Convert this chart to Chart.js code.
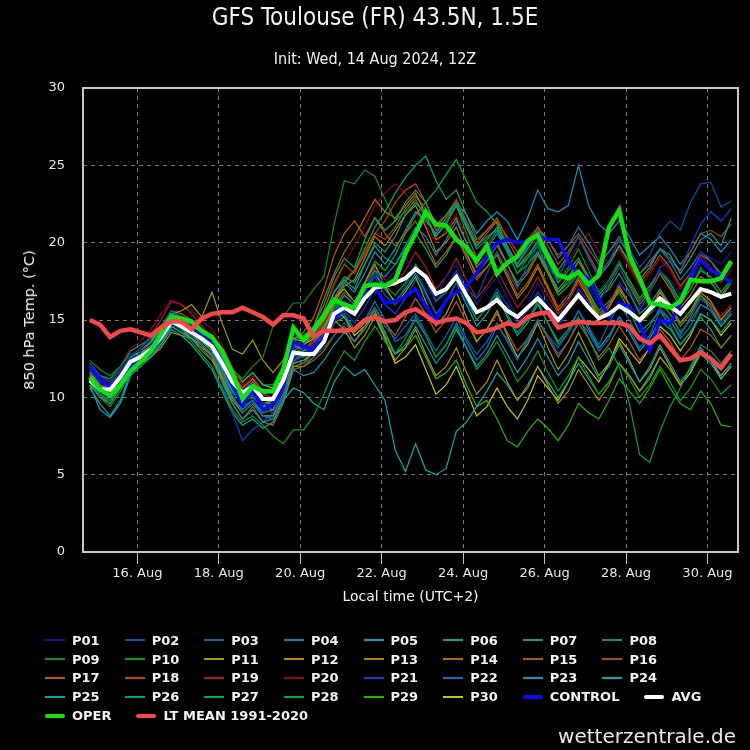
<!DOCTYPE html>
<html><head><meta charset="utf-8">
<script src="https://cdn.jsdelivr.net/npm/chart.js@4.4.1/dist/chart.umd.min.js"></script>
<style>
html,body{margin:0;padding:0;background:#000;}
#wrap{position:relative;width:750px;height:750px;background:#000;overflow:hidden;font-family:"DejaVu Sans",sans-serif;color:#f2f2f2;}
#c{position:absolute;left:0;top:0;}
.t{position:absolute;white-space:nowrap;}
#title{left:0;width:750px;top:3px;text-align:center;font-family:"DejaVu Sans Condensed","DejaVu Sans",sans-serif;font-stretch:condensed;font-size:24px;line-height:28px;}
#sub{left:0;width:750px;top:50px;text-align:center;font-family:"DejaVu Sans Condensed","DejaVu Sans",sans-serif;font-stretch:condensed;font-size:16px;line-height:18px;}
#ytitle{left:29px;top:320px;font-size:14.5px;line-height:16px;transform:translate(-50%,-50%) rotate(-90deg);}
#xtitle{left:83px;width:655px;top:588px;text-align:center;font-size:14px;line-height:16px;}
#legend{position:absolute;left:45px;top:631px;width:680px;display:flex;flex-wrap:wrap;column-gap:25px;}
.li{display:flex;align-items:center;height:18.8px;font-weight:bold;font-size:13px;}
.ln{width:20px;height:2px;margin-right:7px;}
.ln.thick{height:4px;border-radius:2px;}
#wm{right:14px;top:724px;font-size:20px;line-height:24px;color:#e8e8e8;}
</style></head><body>
<div id="wrap">
<canvas id="c" width="750" height="750"></canvas>
<div class="t" id="title">GFS Toulouse (FR) 43.5N, 1.5E</div>
<div class="t" id="sub">Init: Wed, 14 Aug 2024, 12Z</div>
<div class="t" id="ytitle">850 hPa Temp. (°C)</div>
<div class="t" id="xtitle">Local time (UTC+2)</div>
<div id="legend"></div>
<div class="t" id="wm">wetterzentrale.de</div>
</div>
<script>
// forecast lead times (h after init 14 Aug 12Z); local hours relative to 16 Aug 00:00 (UTC+2) = lead - 34
const leadHours = [6,12,18,24,30,36,42,48,54,60,66,72,78,84,90,96,102,108,114,120,126,132,138,144,150,156,162,168,174,180,186,192,198,204,210,216,222,228,234,240,246,252,258,264,270,276,282,288,294,300,306,312,318,324,330,336,342,348,354,360,366,372,378,384];
const tickHours = [0,48,96,144,192,240,288,336];
const tickLabels = ['16. Aug','18. Aug','20. Aug','22. Aug','24. Aug','26. Aug','28. Aug','30. Aug'];
const yTicks = [0,5,10,15,20,25,30];

const memberNames = ['P01','P02','P03','P04','P05','P06','P07','P08','P09','P10','P11','P12','P13','P14','P15','P16','P17','P18','P19','P20','P21','P22','P23','P24','P25','P26','P27','P28','P29','P30'];
const memberColors = ['#0c1e9a','#0a4fae','#0a68b4','#0a86bc','#0ca0b4','#0ca58a','#0ca464','#0c9c40','#0c9020','#0ca010','#a0a000','#b09000','#b07c00','#b06c00','#b05c00','#ac4c00','#c45400','#c83c10','#b41818','#900808','#0044d8','#0a70d0','#0a98c8','#00b0b0','#00a8a0','#00a878','#00b050','#00b030','#20b800','#c8c800'];

const P01 = [11.8,11.0,10.8,11.6,12.8,13.0,13.4,14.2, 15.2,15.0,14.6,14.0,13.6,12.4,11.2,10.0, 10.4,9.6,9.4,10.8,12.6,12.8,13.4,14.2, 15.0,15.8,16.4,17.2,18.0,17.4,18.2,19.0, 18.2,17.0,16.4,17.8,18.6,17.2,16.0,17.0, 17.8,16.4,15.2,16.0,17.4,16.2,15.0,16.6, 18.0,17.2,16.0,17.4,18.4,17.0,15.8,16.8, 18.2,17.6,16.6,18.0,19.4,19.0,18.6,19.4];
const P02 = [12.2,11.4,11.0,11.8,12.6,13.2,13.8,14.6, 15.6,15.2,14.8,14.2,13.4,12.0,10.6,9.6, 10.2,9.2,9.0,10.6,12.8,13.2,13.0,14.0, 15.6,16.2,15.4,16.8,17.8,16.6,16.0,17.2, 18.4,17.6,16.2,17.0,18.2,17.0,16.4,18.0, 19.4,18.2,17.0,18.6,19.8,18.4,17.6,19.2, 20.4,19.0,17.8,18.8,20.2,19.6,18.4,19.2, 20.6,21.4,20.8,22.6,23.8,23.9,22.3,22.7];
const P03 = [11.0,10.2,9.8,10.8,12.0,12.4,12.8,13.6, 14.8,14.4,14.0,13.4,12.8,11.6,10.2,9.0, 9.6,8.8,8.6,10.2,12.4,12.2,12.6,13.2, 14.0,14.8,14.2,15.0,15.8,14.6,13.8,14.6, 15.4,14.2,13.0,14.0,15.2,13.8,12.8,13.6, 14.8,13.6,12.4,13.8,15.0,14.0,13.2,14.2, 15.6,14.6,13.4,14.8,16.0,15.0,13.8,14.6, 15.8,15.0,14.0,15.2,16.4,15.8,14.8,15.6];
const P04 = [11.4,10.8,10.6,11.4,12.4,12.8,13.2,14.2, 15.0,14.8,14.4,14.0,13.6,12.6,11.4,10.4, 11.0,10.2,10.4,11.6,13.4,13.0,13.2,14.0, 15.2,16.0,15.6,17.0,18.2,17.8,18.6,19.8, 21.0,20.4,19.2,20.2,21.4,20.0,18.8,19.6, 20.6,19.4,18.6,19.8,20.8,20.2,19.0,19.8, 21.0,20.0,18.8,19.4,20.4,19.2,18.0,18.6, 19.6,18.8,17.6,18.4,19.4,18.8,18.0,18.6];
const P05 = [10.6,9.6,8.8,9.8,11.6,12.2,12.6,13.4, 14.6,14.2,13.8,13.2,12.4,11.0,9.6,8.6, 9.2,8.4,8.6,9.8,11.8,11.4,11.6,12.4, 13.4,14.2,13.6,14.4,15.4,14.0,12.8,13.4, 14.6,13.4,12.2,13.0,14.4,13.2,12.0,12.8, 14.0,12.8,11.6,12.6,13.8,12.6,11.4,12.2, 13.6,12.4,11.2,12.0,13.4,12.2,11.0,12.0, 13.4,12.2,11.0,11.8,13.2,12.4,11.4,12.2];
const P06 = [12.0,11.2,10.8,11.6,12.6,13.0,13.6,14.4, 15.4,15.0,14.4,13.8,13.2,11.8,10.6,9.8, 10.0,9.4,9.8,11.2,13.0,13.4,14.0,15.2, 16.8,17.6,17.0,18.6,20.0,19.4,20.4,21.8, 22.6,21.8,20.4,21.2,22.4,21.0,19.6,20.2, 21.0,19.8,18.6,19.6,20.6,19.4,18.2,19.2, 20.4,19.0,17.8,18.6,19.8,18.8,17.6,18.4, 19.6,19.2,18.0,19.0,20.2,20.6,19.8,21.6];
const P07 = [11.6,10.6,10.0,10.8,11.8,12.2,12.8,13.8, 14.8,14.6,14.2,13.6,13.0,11.8,10.4,9.6, 10.4,9.6,9.8,11.4,13.6,14.0,14.6,16.0, 17.8,19.0,18.4,20.2,21.6,20.8,21.4,22.6, 23.4,22.6,21.0,21.8,22.6,21.2,19.8,20.4, 20.8,19.6,18.4,19.2,20.0,18.8,17.4,18.2, 19.0,17.8,16.4,17.0,18.0,16.8,15.4,16.0, 17.0,16.0,14.8,15.6,16.6,15.8,14.6,15.4];
const P08 = [11.2,10.2,9.6,10.6,11.8,12.4,13.0,14.0, 15.0,14.8,14.4,13.8,13.2,12.0,10.8,9.8, 10.4,9.6,9.4,10.8,12.8,12.6,13.0,14.2, 15.4,16.2,15.6,17.0,18.2,17.2,16.6,17.4, 18.6,17.6,16.2,16.8,17.8,16.4,15.0,15.8, 16.8,15.4,14.2,15.0,16.2,14.8,13.4,14.2, 15.2,13.8,12.4,13.2,12.0,9.6,6.3,5.8, 7.8,9.4,10.6,12.0,13.4,13.0,12.2,13.0];
const P09 = [12.4,11.8,11.4,12.0,12.8,13.0,13.4,14.4, 15.4,15.2,14.8,14.2,13.8,12.8,11.8,11.2, 12.0,12.6,14.6,15.2,16.1,16.1,17.0,17.8, 21.2,24.0,23.8,24.7,24.3,22.8,21.4,22.0, 22.8,21.6,20.4,21.4,22.4,20.6,19.0,19.8, 20.8,19.4,18.0,19.0,20.2,18.8,17.6,18.4, 19.6,18.2,16.8,17.6,18.8,17.4,16.2,17.0, 18.2,17.2,16.0,17.0,18.4,17.6,16.4,17.4];
const P10 = [11.0,10.0,9.4,10.4,11.6,12.0,12.6,13.6, 14.6,14.2,13.6,12.8,12.0,10.6,9.2,8.4, 8.8,8.2,7.5,7.0,7.9,7.9,8.8,10.2, 11.8,13.0,12.4,13.6,14.6,13.6,12.8,13.8, 15.0,14.0,12.6,13.4,14.6,13.2,11.8,12.6, 13.6,12.4,11.0,11.8,13.0,11.6,10.4,11.4, 12.6,11.4,10.2,11.0,12.2,11.2,10.0,10.8, 12.0,11.0,9.8,10.6,11.8,11.2,10.2,10.8];
const P11 = [11.6,10.8,10.4,11.2,12.2,12.8,13.6,14.6, 15.4,15.6,16.0,15.2,16.8,14.8,13.1,12.8, 13.7,12.4,11.6,12.4,13.8,13.6,14.2,15.0, 16.4,17.0,16.2,17.4,18.6,17.2,16.0,16.8, 17.8,16.2,14.6,15.4,16.8,15.2,13.6,14.4, 15.6,14.0,12.6,13.4,14.8,13.2,11.8,12.8, 14.2,12.8,11.4,12.2,13.6,12.4,11.0,11.8, 13.2,12.0,10.8,11.6,13.0,12.4,11.2,12.0];
const P12 = [10.8,10.0,9.6,10.6,11.8,12.2,12.6,13.2, 14.2,14.0,13.8,13.4,12.8,11.6,10.4,9.6, 10.2,9.4,9.2,10.6,12.2,12.4,12.8,13.8, 15.0,14.4,13.2,14.0,15.2,13.8,12.4,13.2, 14.4,12.8,11.4,12.0,13.2,11.6,10.2,11.0, 12.4,11.0,9.8,10.6,12.0,10.8,9.6,10.4, 11.8,10.8,9.8,10.8,12.2,11.4,10.4,11.2, 12.6,11.8,10.8,11.6,13.0,12.4,11.4,12.2];
const P13 = [11.4,10.4,10.2,11.2,12.4,12.8,13.4,14.0, 15.0,14.4,13.8,13.2,12.8,11.2,9.8,9.0, 9.6,8.8,8.8,10.2,12.0,12.2,13.0,14.4, 16.0,17.2,17.6,19.0,20.4,19.8,20.8,21.8, 22.4,21.0,19.4,20.0,21.0,19.4,17.8,18.4, 19.2,17.8,16.4,17.2,18.4,17.0,15.6,16.4, 17.6,16.4,15.0,15.8,17.0,16.0,14.8,15.6, 16.8,16.0,14.8,15.6,16.8,16.2,15.0,15.8];
const P14 = [12.0,11.2,10.6,11.4,12.4,12.6,13.0,13.8, 14.8,14.4,13.8,13.0,12.4,11.4,10.4,9.8, 10.6,9.8,9.8,11.0,12.8,13.2,14.6,16.4, 18.0,19.4,20.4,21.6,22.8,22.0,21.6,22.4, 23.2,21.8,20.2,20.6,21.6,20.0,18.4,19.2, 20.0,18.6,17.2,18.0,19.2,18.0,16.8,17.6, 18.8,17.6,16.4,17.2,18.4,17.2,16.0,16.8, 18.0,17.0,15.8,16.6,17.8,17.4,16.6,17.4];
const P15 = [11.2,10.6,10.2,11.0,12.0,12.4,13.0,14.0, 15.2,14.8,14.2,13.4,12.6,11.2,9.6,8.6, 9.4,8.4,8.2,9.6,11.8,12.0,12.4,13.0, 14.0,14.6,13.6,14.6,15.8,14.8,14.0,15.2, 16.4,15.4,14.2,15.0,16.2,14.8,13.6,14.4, 15.4,14.2,13.0,13.8,15.0,13.8,12.6,13.6, 14.8,13.8,12.6,13.4,14.6,13.6,12.4,13.2, 14.4,13.6,12.4,13.2,14.4,14.0,13.2,14.0];
const P16 = [11.8,11.2,10.8,11.6,12.6,13.0,13.6,14.4, 15.4,15.0,14.6,14.0,13.4,12.4,11.2,10.4, 11.0,10.2,10.0,11.4,13.2,13.4,14.2,15.6, 17.4,18.6,18.0,19.4,20.6,20.2,21.0,22.2, 23.0,22.2,20.8,21.6,22.4,21.0,19.8,20.6, 21.4,20.4,19.4,20.2,21.0,20.2,19.2,19.8, 20.6,19.6,18.6,19.4,20.2,19.2,18.0,18.8, 19.6,19.0,18.2,19.4,20.6,20.8,20.4,21.2];
const P17 = [11.0,10.2,9.8,10.8,12.2,12.8,13.4,14.4, 15.6,15.4,15.0,14.4,13.8,12.6,11.4,10.6, 11.2,10.4,10.4,11.8,13.8,14.2,15.2,17.0, 19.2,20.6,21.4,20.4,21.6,20.6,19.8,20.6, 21.4,20.0,18.6,19.4,20.4,19.0,17.6,18.4, 19.4,18.0,16.6,17.4,18.6,17.2,15.8,16.6, 17.8,16.6,15.2,16.0,17.2,16.0,14.8,15.6, 16.8,15.8,14.6,15.4,16.6,16.0,15.0,15.8];
const P18 = [11.4,10.8,10.2,11.0,12.0,12.4,13.0,13.8, 14.8,14.6,14.4,14.0,13.8,12.8,11.6,10.6, 11.2,10.0,9.4,10.8,12.6,13.0,13.8,15.0, 16.4,17.6,18.2,19.2,20.6,21.4,22.6,23.4, 23.8,22.6,21.2,21.8,22.8,21.4,20.0,20.8, 21.6,20.2,19.0,19.8,21.0,19.8,18.6,19.4, 20.4,19.2,18.0,18.8,19.8,18.6,17.4,18.2, 19.2,18.4,17.2,18.0,19.2,18.8,17.8,18.6];
const P19 = [11.6,11.0,10.6,11.4,12.6,13.2,14.0,15.0, 16.2,16.0,15.4,14.6,13.8,12.6,11.4,10.2, 10.6,9.6,9.6,11.0,12.8,13.0,13.6,14.8, 16.0,16.8,16.2,17.2,18.4,17.6,17.2,18.2, 19.4,18.4,17.0,17.8,19.0,17.6,16.4,17.2, 18.2,17.0,15.8,16.6,17.8,16.6,15.4,16.2, 17.4,16.4,15.2,16.0,17.2,16.0,14.8,15.6, 16.8,16.0,14.8,15.6,16.8,16.2,15.2,16.0];
const P20 = [11.8,11.2,11.0,12.0,13.2,13.6,14.4,15.4, 16.3,16.0,15.6,15.0,14.4,13.4,12.0,10.8, 11.4,10.4,10.2,11.6,13.4,13.6,14.2,15.6, 17.2,18.6,19.8,21.0,22.4,23.2,23.8,23.2, 22.4,21.2,20.0,20.8,21.8,20.4,19.2,20.0, 21.0,19.6,18.4,19.4,20.4,19.2,18.0,18.8, 19.8,20.6,19.4,18.6,19.6,18.4,17.2,18.0, 19.0,18.2,17.0,18.0,19.2,18.4,17.4,18.2];
const P21 = [11.2,10.4,10.0,10.8,11.8,12.2,12.8,13.8, 15.0,14.6,14.0,13.4,12.6,11.0,9.0,7.2, 7.9,8.4,9.0,10.6,12.4,12.6,13.2,14.0, 15.0,15.6,14.8,15.8,17.0,16.0,15.4,16.4, 17.6,16.6,15.4,16.2,17.4,16.2,15.0,15.8, 17.0,16.0,14.8,15.6,16.8,15.8,14.6,15.6, 17.0,16.2,15.0,16.0,17.4,16.6,15.6,16.8, 18.4,18.8,18.2,19.8,21.2,22.0,21.4,22.2];
const P22 = [10.8,10.2,9.8,10.6,11.8,12.4,13.0,14.0, 15.0,14.8,14.4,13.8,13.2,12.0,10.6,9.4, 9.8,8.8,8.6,10.0,12.2,12.4,13.0,14.0, 15.0,15.4,14.4,15.0,16.2,15.0,13.6,14.0, 15.2,14.0,12.6,13.4,14.8,13.6,12.4,13.2, 14.6,13.8,12.6,13.6,15.0,14.0,12.8,13.6, 15.0,14.2,13.0,13.8,15.2,14.4,13.2,14.0, 15.6,15.0,13.8,14.6,16.0,15.6,14.6,15.4];
const P23 = [11.4,10.6,10.4,11.4,12.6,13.0,13.6,14.4, 15.4,15.0,14.6,14.0,13.4,12.2,10.8,9.8, 10.4,9.6,9.6,11.0,12.8,13.0,13.6,14.8, 16.2,17.4,16.8,18.0,19.4,18.6,19.6,20.8, 22.0,21.4,20.6,21.6,22.6,21.8,20.6,21.4, 22.0,21.4,20.2,21.6,23.4,22.2,22.0,22.4, 25.0,22.4,21.2,20.6,21.4,20.4,19.2,19.8, 20.4,19.6,18.6,19.4,20.6,20.2,19.4,20.2];
const P24 = [10.8,9.2,8.7,9.6,11.4,12.0,12.6,13.4, 14.4,14.0,13.4,12.6,11.8,10.4,9.0,8.2, 8.6,8.0,8.4,9.8,10.6,10.3,9.6,9.2, 11.0,12.0,11.4,11.8,10.8,9.8,6.6,5.2, 7.0,5.3,5.0,5.4,7.8,8.4,9.4,10.4, 11.6,10.8,9.8,10.8,12.0,11.0,10.0,11.0, 12.2,11.2,10.2,11.0,12.2,11.4,10.4,11.4, 12.6,11.8,10.8,11.6,12.8,12.2,11.2,12.0];
const P25 = [11.2,10.4,10.2,11.0,12.2,12.6,13.2,14.2, 15.2,14.8,14.2,13.4,12.8,11.4,10.0,9.2, 9.8,9.0,9.2,10.6,12.4,12.8,13.4,14.4, 15.6,16.6,16.0,17.0,18.0,17.0,16.2,17.0, 18.0,16.8,15.4,16.2,17.4,16.0,14.6,15.4, 16.6,15.2,14.0,14.8,16.0,14.8,13.6,14.4, 15.6,14.4,13.2,14.0,15.2,14.2,13.0,13.8, 15.0,14.4,13.4,14.2,15.4,15.0,14.2,15.0];
const P26 = [12.2,11.4,11.2,12.0,13.0,13.4,13.8,14.6, 15.6,15.2,14.6,14.0,13.6,12.6,11.6,11.0, 11.6,10.8,10.8,12.0,13.8,14.0,14.4,15.4, 16.8,17.8,17.4,18.6,19.8,19.0,18.6,19.6, 20.6,19.6,18.4,19.2,20.4,19.2,18.0,18.8, 19.8,18.6,17.4,18.2,19.4,18.2,17.0,17.8, 18.8,17.8,16.6,17.4,18.6,17.6,16.4,17.2, 18.2,17.4,16.2,17.0,18.2,17.8,16.8,17.6];
const P27 = [11.6,10.8,10.4,11.2,12.2,12.6,13.2,14.0, 15.0,14.6,14.2,13.6,13.0,11.8,10.6,9.8, 10.4,9.6,9.6,10.8,12.6,13.0,13.6,14.8, 16.2,17.4,18.2,19.6,21.0,22.0,23.2,24.2, 25.0,25.6,24.0,22.8,23.4,21.8,20.2,20.8, 21.4,19.8,18.4,19.0,19.8,18.2,16.8,17.4, 18.2,16.8,15.4,16.0,16.8,15.6,14.2,14.8, 15.6,14.6,13.4,14.2,15.2,14.4,13.2,14.0];
const P28 = [11.4,10.6,10.2,11.2,12.4,12.8,13.4,14.2, 15.2,14.8,14.4,13.8,13.2,12.0,10.6,9.6, 10.2,9.4,9.4,10.8,12.6,12.8,13.4,14.6, 15.8,16.8,16.2,17.4,18.8,18.2,19.2,20.6, 21.8,22.6,23.4,24.4,25.4,24.0,22.6,22.0, 21.2,19.4,18.0,18.6,19.4,18.0,16.6,17.2, 18.0,16.8,15.6,16.2,17.0,16.0,14.8,15.4, 16.2,15.4,14.2,15.0,16.0,15.6,14.6,15.4];
const P29 = [11.0,10.2,9.8,10.6,11.8,12.2,12.8,13.8, 14.8,14.4,14.0,13.4,12.8,11.4,10.0,9.0, 9.6,8.8,8.8,10.2,12.0,12.0,12.6,13.6, 14.8,15.2,14.2,14.8,15.6,14.2,12.8,13.2, 14.0,12.6,11.2,11.6,12.4,10.8,9.4,9.8, 8.6,7.2,6.8,7.8,8.6,8.0,7.2,8.2, 9.6,9.0,8.6,9.8,11.2,10.4,9.6,10.6, 11.8,10.6,9.6,9.2,10.4,9.6,8.2,8.1];
const P30 = [11.8,11.0,10.8,11.6,12.6,13.0,13.6,14.4, 15.4,15.0,14.6,14.2,13.8,12.8,11.8,11.0, 11.6,10.8,10.6,11.8,13.4,13.4,13.8,14.6, 15.6,15.2,14.0,14.6,15.4,13.8,12.2,12.6, 13.4,11.8,10.2,10.8,12.0,10.4,8.8,9.4, 10.6,9.4,8.6,9.8,11.4,10.6,9.8,11.0, 12.6,11.8,11.0,12.2,13.8,13.0,12.2,13.2, 14.6,14.0,13.0,14.0,15.4,15.0,14.0,14.8];

const CONTROL = [12.0,11.2,10.7,11.0,12.0,12.5,13.2,14.0, 15.0,14.8,14.3,14.0,13.4,12.2,10.8,9.5, 10.5,9.2,9.5,10.7,13.6,13.3,13.1,13.9, 15.0,15.9,15.8,16.6,17.1,16.1,16.2,16.5, 17.0,15.9,14.9,16.3,16.8,17.2,18.0,19.1, 20.0,20.2,20.0,20.1,20.4,20.2,20.2,18.8, 18.0,17.7,16.4,15.2,16.1,15.9,14.8,13.0, 15.0,14.8,16.0,17.7,18.9,18.2,17.9,17.4];
const AVG = [11.1,10.5,10.5,11.3,12.3,12.6,13.1,13.9, 14.9,14.6,14.2,13.8,13.3,12.2,11.0,10.3, 10.7,9.9,9.9,11.1,12.9,12.8,12.8,13.6, 15.4,15.8,15.4,16.4,17.1,17.2,17.4,17.7, 18.3,17.8,16.7,17.0,17.8,16.6,15.5,15.8, 16.3,15.6,15.2,15.8,16.4,15.7,15.0,15.8, 16.6,15.8,15.1,15.4,15.9,15.5,15.0,15.7, 16.4,15.9,15.4,16.2,17.0,16.8,16.5,16.7];
const OPER = [11.3,10.5,10.1,10.8,11.7,12.3,13.0,14.1, 15.2,15.1,14.9,14.3,13.9,13.0,11.6,9.9, 10.7,10.4,10.4,11.8,14.5,13.7,14.4,15.3, 16.3,16.0,15.8,17.2,17.3,17.2,17.6,19.3, 20.6,22.0,21.2,21.1,20.2,19.7,18.8,19.8, 18.0,18.7,19.1,20.1,20.5,19.1,17.9,17.7, 18.1,17.3,17.9,21.0,22.1,19.2,17.7,16.1, 16.0,15.8,16.2,17.6,17.5,17.5,17.7,18.8];
const LTMEAN = [15.0,14.7,13.9,14.3,14.4,14.2,14.0,14.5, 14.9,14.9,14.4,15.1,15.4,15.5,15.5,15.8, 15.5,15.2,14.7,15.3,15.3,15.1,13.9,14.3, 14.3,14.3,14.4,15.0,15.2,14.9,15.0,15.5, 15.7,15.3,14.8,15.0,15.1,14.8,14.2,14.3, 14.5,14.8,14.6,15.2,15.4,15.5,14.5,14.7, 14.9,14.8,14.8,14.8,14.8,14.6,13.8,13.5, 14.0,13.2,12.4,12.5,12.9,12.5,11.9,12.8];

const members = [P01,P02,P03,P04,P05,P06,P07,P08,P09,P10,P11,P12,P13,P14,P15,P16,P17,P18,P19,P20,P21,P22,P23,P24,P25,P26,P27,P28,P29,P30];

const specials = [
  {name:'CONTROL', data:CONTROL, color:'#0a0af5', width:3.5, order:4},
  {name:'AVG', data:AVG, color:'#ffffff', width:4, order:3},
  {name:'OPER', data:OPER, color:'#12e012', width:4.5, order:2},
  {name:'LT MEAN 1991-2020', data:LTMEAN, color:'#f24848', width:4.5, order:1}
];

const toPts = arr => arr.map((v,i)=>({x: leadHours[i]-34, y: v}));

const datasets = [];
members.forEach((arr,i)=>{
  datasets.push({label:memberNames[i], data:toPts(arr), borderColor:memberColors[i], borderWidth:1.2, pointRadius:0, tension:0, order:10, fill:false});
});
specials.forEach(s=>{
  datasets.push({label:s.name, data:toPts(s.data), borderColor:s.color, borderWidth:s.width, pointRadius:0, tension:0, order:s.order, fill:false});
});

const framePlugin = {
  id:'frame',
  afterDraw(chart){
    const {ctx, chartArea:a} = chart;
    ctx.save();
    ctx.strokeStyle = '#c8c8c8';
    ctx.lineWidth = 2;
    ctx.strokeRect(a.left, a.top, a.right-a.left, a.bottom-a.top);
    ctx.restore();
  }
};

const tickFont = {family:'DejaVu Sans', size:13};

new Chart(document.getElementById('c'), {
  type:'line',
  data:{datasets},
  options:{
    responsive:false,
    animation:false,
    events:[],
    layout:{padding:{left:0, right:12, top:88, bottom:138}},
    plugins:{legend:{display:false}, tooltip:{enabled:false}, title:{display:false}},
    scales:{
      x:{
        type:'linear', min:-32, max:354,
        afterBuildTicks: s => { s.ticks = tickHours.map(v=>({value:v})); },
        afterFit: s => { s.height = 60; },
        ticks:{color:'#e8e8e8', font:tickFont, padding:2, maxRotation:0, autoSkip:false,
               callback:(v,i)=> tickLabels[tickHours.indexOf(v)] ?? ''},
        grid:{color:'#7a7a7a', lineWidth:1, drawTicks:true, tickLength:12, tickColor:'#b4c4dc', tickWidth:1, tickBorderDash:[]},
        border:{display:false, dash:[4,4]}
      },
      y:{
        type:'linear', min:0, max:30,
        afterBuildTicks: s => { s.ticks = yTicks.map(v=>({value:v})); },
        afterFit: s => { s.width = 83; },
        ticks:{color:'#e8e8e8', font:tickFont, padding:18},
        grid:{color: c => (c.tick && (c.tick.value===0 || c.tick.value===30)) ? 'rgba(0,0,0,0)' : '#7a7a7a', lineWidth:1, drawTicks:false},
        border:{display:false, dash:[4,4]}
      }
    }
  },
  plugins:[framePlugin]
});

// HTML legend built from the dataset names/colours
const legend = document.getElementById('legend');
const legendItems = memberNames.map((n,i)=>({name:n, color:memberColors[i], thick:false}))
  .concat(specials.map(s=>({name:s.name, color:s.color, thick:true})));
legendItems.forEach(it=>{
  const d = document.createElement('div'); d.className='li';
  const l = document.createElement('span'); l.className='ln'+(it.thick?' thick':''); l.style.background=it.color;
  const t = document.createElement('span'); t.textContent = it.name;
  d.appendChild(l); d.appendChild(t); legend.appendChild(d);
});
</script>
</body></html>
